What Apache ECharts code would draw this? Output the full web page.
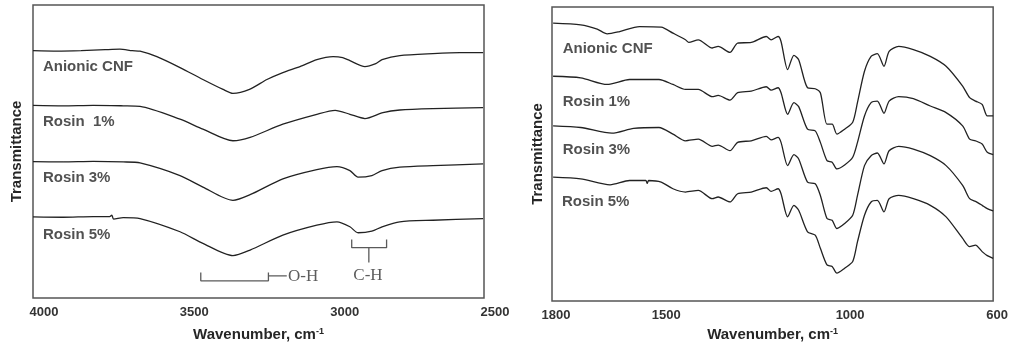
<!DOCTYPE html>
<html lang="en">
<head>
    <meta charset="UTF-8">
    <title>FTIR spectra</title>
    <style>
        html, body { margin: 0; padding: 0; background: #fff; }
        #chart { width: 1011px; height: 347px; }
    </style>
</head>
<body>
    <div id="chart"></div>
    <script src="https://cdn.jsdelivr.net/npm/echarts@6/dist/echarts.min.js"></script>
    <script>
        // left panel, 4000-2500 cm-1 (stacked, arbitrary transmittance)
        const leftAnionic = [[4000,249],[3920,248.5],[3840,249],[3760,250],[3711,250.5],[3670,249],[3644,248.5],[3588,243],[3511,232],[3435,220],[3368,210],[3335,206],[3280,210],[3222,220],[3169,227],[3112,233],[3056,240],[3002,243],[2970,242],[2946,239],[2896,233],[2860,236],[2839,240],[2780,244],[2670,246],[2580,247],[2503,247]];
        const leftRosin1 = [[4000,194],[3900,193.5],[3800,194],[3700,193.5],[3644,193],[3511,180],[3435,170],[3335,158.3],[3278,161.7],[3169,175],[3056,185],[2995,189],[2946,185],[2896,180.7],[2836,186.7],[2780,189.3],[2670,190.7],[2503,191.7]];
        const leftRosin3 = [[4000,137.3],[3900,137],[3800,137.5],[3700,137],[3644,136],[3511,123.3],[3435,111.7],[3335,98.3],[3278,104],[3169,120],[3056,129.3],[2989,132.3],[2946,128.3],[2919,121.7],[2873,123.3],[2839,128.3],[2780,131.7],[2670,133.3],[2503,135]];
        const leftRosin5 = [[4000,81.7],[3900,81.3],[3800,82],[3745,82],[3738,83.5],[3732,79.5],[3700,81],[3644,80],[3511,66.7],[3435,55],[3335,42.7],[3278,48.3],[3169,63.3],[3056,73.3],[2989,76.7],[2946,71.7],[2919,65.7],[2873,67.3],[2839,71.7],[2780,76.7],[2670,78.3],[2503,80]];

        // right panel, 1800-600 cm-1
        const rightAnionic = [[1797,279.7],[1722,278],[1677,273.7],[1650,269],[1616,271.3],[1562,276.3],[1503,275.7],[1471,269.7],[1437,263],[1428,260.3],[1402,263],[1364,254.7],[1348,256.3],[1316,250.3],[1295,259.7],[1258,260.3],[1217,266.3],[1204,263],[1185,266.3],[1177,261.3],[1159,233],[1142,247.3],[1129,243],[1105,214.7],[1084,213.7],[1070,209.7],[1052,178],[1038,178],[1025,168],[1004,173],[982,180],[969,200],[950,231.3],[932,246.3],[915,249],[897,236.3],[883,251.3],[857,256.3],[817,253],[771,246.3],[728,236.3],[683,216.3],[664,204.7],[648,201.3],[630,198],[616,186.3],[600,186.3]];
        const rightRosin1 = [[1797,226.3],[1722,224.7],[1650,218],[1589,223],[1509,223],[1471,218],[1437,213],[1402,213],[1364,205.7],[1348,207],[1316,202.3],[1295,209.7],[1258,211.3],[1217,215.7],[1204,212.3],[1185,214.7],[1177,209.7],[1159,188],[1142,199.7],[1129,195.7],[1105,173],[1084,171.3],[1070,159.7],[1052,141.3],[1038,139.7],[1025,133],[1004,137],[982,144.7],[969,159.7],[950,186.3],[932,199.7],[915,201.3],[897,189],[883,201.3],[857,205.7],[817,203.7],[771,196.3],[728,189.7],[683,176.3],[664,163],[648,161.3],[630,158],[616,149.7],[600,147.3]];
        const rightRosin3 = [[1797,176.3],[1722,174.7],[1637,169],[1578,173.7],[1509,174.7],[1471,168],[1437,161.3],[1402,163],[1364,155.7],[1348,157],[1316,151.3],[1295,159.7],[1258,161.3],[1217,165.7],[1204,162.3],[1185,164.7],[1177,159.7],[1159,136.3],[1142,147.3],[1129,143],[1105,119.7],[1084,118],[1070,106.3],[1052,83],[1038,81.3],[1025,73],[1004,78],[982,86.3],[969,106.3],[950,136.3],[932,146.3],[915,149],[897,138],[883,151.3],[857,155.7],[817,153],[771,146.3],[728,136.3],[683,116.3],[664,103],[648,100.3],[630,96.3],[616,93],[600,90.7]];
        const rightRosin5 = [[1797,124.7],[1722,123],[1642,117],[1589,121.3],[1545,121.3],[1541,118.5],[1537,121.3],[1503,119.7],[1471,113],[1437,109.7],[1402,111.3],[1364,103],[1348,104.7],[1316,99.7],[1295,108],[1258,109.7],[1217,114],[1204,110.3],[1185,113],[1177,108],[1159,84.7],[1142,96.3],[1129,91.3],[1105,69.7],[1084,66.3],[1070,53],[1052,36.3],[1038,34.7],[1025,28],[1004,33],[982,39.7],[969,59.7],[950,86.3],[932,99.7],[915,101.3],[897,89.7],[883,103],[857,106.3],[817,103],[771,96.3],[728,84.7],[683,63],[664,54.7],[648,56.3],[630,49.7],[616,45.7],[600,43]];

        const leftTicks = [2500, 3000, 3500, 4000];
        const rightTicks = [600, 1000, 1500, 1800];

        // curve names and where they sit
        const leftNames = ['Anionic CNF', 'Rosin  1%', 'Rosin 3%', 'Rosin 5%'];
        const leftNamePos = [[3967,232.5],[3967,177.5],[3967,121],[3967,64]];
        const rightNames = ['Anionic CNF', 'Rosin 1%', 'Rosin 3%', 'Rosin 5%'];
        const rightNamePos = [[1771,254],[1771,200.5],[1771,152],[1773,99.5]];

        // band brackets
        const ohBracket = [[3442,25.7],[3442,17.3],[3217,17.3],[3217,25.7]];
        const ohLead = [[3217,22.3],[3156,22.3]];
        const chBracket = [[2940,59],[2940,50.7],[2824,50.7],[2824,59]];
        const chStem = [[2883,50.7],[2883,35.7]];
        const bandText = [['O-H', 3152, 21.5, 'right'], ['C-H', 2886, 23, 'inside']];

        const font = 'Arial, "Liberation Sans", sans-serif';
        const lineColor = '#222';

        function curve(data, idx) {
            return {
                type: 'line', xAxisIndex: idx, yAxisIndex: idx, data: data,
                showSymbol: false, smooth: 0.25, silent: true,
                lineStyle: { color: lineColor, width: 1.3 }
            };
        }

        function bracket(data) {
            return {
                type: 'line', xAxisIndex: 0, yAxisIndex: 0, data: data,
                showSymbol: false, silent: true,
                lineStyle: { color: '#5a5a5a', width: 1.3 }
            };
        }

        function nameLabels(names, pos, idx) {
            return {
                type: 'scatter', xAxisIndex: idx, yAxisIndex: idx, symbolSize: 0, silent: true,
                data: names.map((n, i) => ({ name: n, value: pos[i] })),
                label: {
                    show: true, position: 'right', distance: 0,
                    formatter: p => p.name,
                    fontFamily: font, fontWeight: 'bold', fontSize: 15, color: '#262626'
                }
            };
        }

        function xAxisOf(idx, min, max, ticks, gap, pad) {
            return {
                gridIndex: idx, type: 'value', min: min, max: max, inverse: true,
                axisLine: { show: false }, axisTick: { show: false }, splitLine: { show: false },
                axisLabel: {
                    customValues: ticks, margin: 8, padding: pad,
                    formatter: v => String(v),
                    fontFamily: font, fontWeight: 'bold', fontSize: 13, color: '#333'
                },
                name: 'Wavenumber, cm{sup|-1}', nameLocation: 'middle', nameGap: gap,
                nameTextStyle: {
                    fontFamily: font, fontWeight: 'bold', fontSize: 15, color: '#262626',
                    rich: { sup: { fontFamily: font, fontWeight: 'bold', fontSize: 9, color: '#262626', verticalAlign: 'top', padding: [0, 0, 6, 0] } }
                }
            };
        }

        function yAxisOf(idx, max, gap) {
            return {
                gridIndex: idx, type: 'value', min: 0, max: max,
                axisLine: { show: false }, axisTick: { show: false },
                axisLabel: { show: false }, splitLine: { show: false },
                name: 'Transmittance', nameLocation: 'middle', nameGap: gap, nameRotate: 90,
                nameTextStyle: { fontFamily: font, fontWeight: 'bold', fontSize: 15, color: '#262626' }
            };
        }

        let myChart = echarts.init(document.getElementById('chart'), null, { renderer: 'canvas' });

        let option = {
            animation: false,
            backgroundColor: '#fff',
            grid: [
                { left: 33, right: 527, top: 5, bottom: 47, show: true, borderColor: '#555', borderWidth: 1.5 },
                { left: 552, right: 10, top: 7, bottom: 44, show: true, borderColor: '#555', borderWidth: 1.5 }
            ],
            xAxis: [
                xAxisOf(0, 2500, 4000, leftTicks, 29, [0, 0, 0, 22]),
                xAxisOf(1, 600, 1800, rightTicks, 26, [0, 0, 0, 8])
            ],
            yAxis: [
                yAxisOf(0, 295, 9),
                yAxisOf(1, 296, 7)
            ],
            series: [
                curve(leftAnionic, 0), curve(leftRosin1, 0), curve(leftRosin3, 0), curve(leftRosin5, 0),
                curve(rightAnionic, 1), curve(rightRosin1, 1), curve(rightRosin3, 1), curve(rightRosin5, 1),
                nameLabels(leftNames, leftNamePos, 0),
                nameLabels(rightNames, rightNamePos, 1),
                bracket(ohBracket), bracket(ohLead), bracket(chBracket), bracket(chStem),
                {
                    type: 'scatter', xAxisIndex: 0, yAxisIndex: 0, symbolSize: 0, silent: true,
                    data: bandText.map(t => ({ name: t[0], value: [t[1], t[2]], label: { position: t[3] } })),
                    label: {
                        show: true, distance: 0, formatter: p => p.name,
                        fontFamily: '"Liberation Serif", "DejaVu Serif", serif', fontSize: 17, color: '#333'
                    }
                }
            ]
        };

        myChart.setOption(option);
    </script>
</body>
</html>
